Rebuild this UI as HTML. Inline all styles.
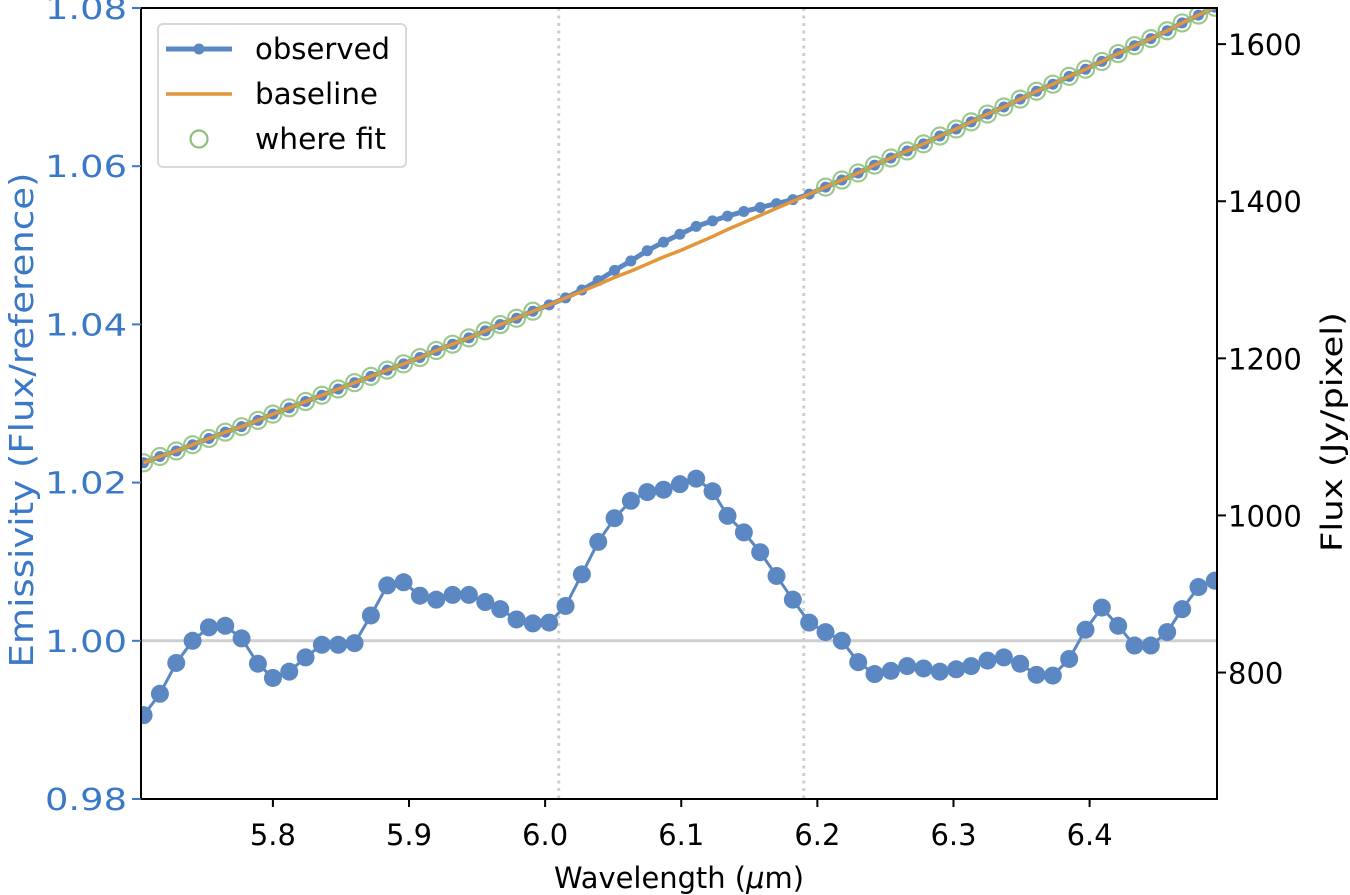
<!DOCTYPE html>
<html><head><meta charset="utf-8"><style>
html,body{margin:0;padding:0;background:#fff;}
svg text{font-family:"DejaVu Sans","Liberation Sans",sans-serif;}
</style></head><body>
<svg id="chart" width="1350" height="895" viewBox="0 0 1350 895" xmlns="http://www.w3.org/2000/svg" style="position:absolute;left:0;top:0">
<g id="grid"></g><g id="marks"></g><g id="axes"></g>
</svg>
<script>
const wavelength = [5.705,5.717,5.729,5.741,5.753,5.765,5.777,5.789,5.800,5.812,5.824,5.836,5.848,5.860,5.872,5.884,5.896,5.908,5.920,5.932,5.944,5.956,5.967,5.979,5.991,6.003,6.015,6.027,6.039,6.051,6.063,6.075,6.087,6.099,6.111,6.123,6.134,6.146,6.158,6.170,6.182,6.194,6.206,6.218,6.230,6.242,6.254,6.266,6.278,6.290,6.302,6.313,6.325,6.337,6.349,6.361,6.373,6.385,6.397,6.409,6.421,6.433,6.445,6.457,6.468,6.480,6.492];
const emissivity = [0.9906,0.9933,0.9972,1.0000,1.0017,1.0019,1.0003,0.9971,0.9953,0.9961,0.9979,0.9995,0.9995,0.9997,1.0032,1.0070,1.0074,1.0057,1.0052,1.0058,1.0058,1.0049,1.0040,1.0027,1.0022,1.0023,1.0044,1.0084,1.0125,1.0155,1.0177,1.0188,1.0191,1.0198,1.0205,1.0189,1.0158,1.0137,1.0112,1.0082,1.0052,1.0023,1.0011,1.0000,0.9973,0.9958,0.9962,0.9968,0.9965,0.9961,0.9964,0.9968,0.9975,0.9979,0.9971,0.9957,0.9956,0.9977,1.0014,1.0042,1.0019,0.9994,0.9994,1.0011,1.0040,1.0068,1.0076];
const fluxObserved = [1067,1075,1082,1090,1098,1106,1113,1121,1129,1137,1145,1153,1161,1169,1177,1185,1193,1201,1210,1218,1226,1235,1243,1251,1260,1268,1277,1287,1299,1312,1324,1337,1348,1358,1368,1375,1381,1387,1392,1397,1402,1409,1418,1427,1436,1446,1455,1464,1473,1483,1492,1501,1511,1520,1530,1540,1549,1559,1568,1578,1588,1598,1607,1617,1627,1637,1647];
const fluxBaseline = [1067,1075,1082,1090,1098,1106,1113,1121,1129,1137,1145,1153,1161,1169,1177,1185,1193,1201,1210,1218,1226,1235,1243,1251,1260,1268,1277,1285,1294,1303,1311,1320,1329,1337,1346,1355,1364,1373,1382,1391,1400,1409,1418,1427,1436,1446,1455,1464,1473,1483,1492,1501,1511,1520,1530,1540,1549,1559,1568,1578,1588,1598,1607,1617,1627,1637,1647];
const fitMask = [1,1,1,1,1,1,1,1,1,1,1,1,1,1,1,1,1,1,1,1,1,1,1,1,1,0,0,0,0,0,0,0,0,0,0,0,0,0,0,0,0,0,1,1,1,1,1,1,1,1,1,1,1,1,1,1,1,1,1,1,1,1,1,1,1,1,1];
const xTicks = [5.8,5.9,6.0,6.1,6.2,6.3,6.4];
const xTickLabels = ["5.8","5.9","6.0","6.1","6.2","6.3","6.4"];
const leftTicks = [0.98,1.00,1.02,1.04,1.06,1.08];
const leftTickLabels = ["0.98","1.00","1.02","1.04","1.06","1.08"];
const rightTicks = [800,1000,1200,1400,1600];
const rightTickLabels = ["800","1000","1200","1400","1600"];
const fitEdges = [6.01,6.19];

const L=141,R=1217,T=8,B=799;
const xMin=5.7031,xMax=6.4936, eMin=0.98,eMax=1.08, fMin=639,fMax=1646;
const xs=v=>L+(v-xMin)/(xMax-xMin)*(R-L);
const ye=v=>B-(v-eMin)/(eMax-eMin)*(B-T);
const yf=v=>B-(v-fMin)/(fMax-fMin)*(B-T);
const NS="http://www.w3.org/2000/svg";
function mk(tag,attrs,parent,text){const e=document.createElementNS(NS,tag);for(const k in attrs)e.setAttribute(k,attrs[k]);if(text!==undefined)e.textContent=text;parent.appendChild(e);return e;}
const svg=document.getElementById('chart');
const grid=document.getElementById('grid'),marks=document.getElementById('marks'),axes=document.getElementById('axes');
const cp=mk('clipPath',{id:'clip'},svg);
mk('rect',{x:L,y:T,width:R-L,height:B-T},cp);
marks.setAttribute('clip-path','url(#clip)');

let h=mk('line',{x1:L,x2:R,y1:ye(1.0),y2:ye(1.0),stroke:'#cfcfcf','stroke-width':3},grid);


fitEdges.forEach(w=>{const v=mk('line',{x1:xs(w),x2:xs(w),y1:T,y2:B,stroke:'#cfcfcf','stroke-width':3,'stroke-dasharray':'3 4.5'},grid);

});

let p=mk('polyline',{points:wavelength.map((w,i)=>xs(w)+','+ye(emissivity[i])).join(' '),fill:'none',stroke:'#5b87c2','stroke-width':3},marks);


wavelength.forEach((w,i)=>{const c=mk('circle',{cx:xs(w),cy:ye(emissivity[i]),r:9,fill:'#5b87c2'},marks);

});
p=mk('polyline',{points:wavelength.map((w,i)=>xs(w)+','+yf(fluxObserved[i])).join(' '),fill:'none',stroke:'#5b87c2','stroke-width':5},marks);


wavelength.forEach((w,i)=>{const c=mk('circle',{cx:xs(w),cy:yf(fluxObserved[i]),r:5.5,fill:'#5b87c2'},marks);

});
p=mk('polyline',{points:wavelength.map((w,i)=>xs(w)+','+yf(fluxBaseline[i])).join(' '),fill:'none',stroke:'#e4963a','stroke-width':3.5},marks);


wavelength.forEach((w,i)=>{if(!fitMask[i])return;const c=mk('circle',{cx:xs(w),cy:yf(fluxObserved[i]),r:8.5,fill:'none',stroke:'#8dbf78','stroke-width':2.2,'stroke-opacity':0.85},marks);

});

let fr=mk('rect',{x:L,y:T,width:R-L,height:B-T,fill:'none',stroke:'#000','stroke-width':2},axes);


xTicks.forEach((t,i)=>{mk('line',{x1:xs(t),x2:xs(t),y1:B,y2:B+8,stroke:'#000','stroke-width':2},axes);
const tx=mk('text',{x:xs(t),y:B+46,'font-size':29,'text-anchor':'middle',fill:'#000',textLength:46,lengthAdjust:'spacingAndGlyphs'},axes,xTickLabels[i]);

});
leftTicks.forEach((t,i)=>{mk('line',{x1:L-9,x2:L,y1:ye(t),y2:ye(t),stroke:'#3a78c8','stroke-width':2},axes);
const tx=mk('text',{x:45,y:ye(t)+11,'font-size':30,'text-anchor':'start',fill:'#3a78c8','font-family':'Liberation Sans, sans-serif',textLength:82,lengthAdjust:'spacingAndGlyphs'},axes,leftTickLabels[i]);

});
rightTicks.forEach((t,i)=>{mk('line',{x1:R,x2:R+9,y1:yf(t),y2:yf(t),stroke:'#000','stroke-width':2},axes);
const tx=mk('text',{x:R+11,y:yf(t)+11,'font-size':29,'text-anchor':'start',fill:'#000'},axes,rightTickLabels[i]);

});
</script>
<svg style="position:absolute;left:0;top:0" width="1350" height="895">
<text x="679" y="888" font-size="29" text-anchor="middle" fill="#000" font-family="DejaVu Sans, sans-serif" textLength="250" lengthAdjust="spacingAndGlyphs">Wavelength (<tspan font-style="italic">μ</tspan>m)</text>
<text transform="translate(33,420) rotate(-90)" font-size="33" text-anchor="middle" fill="#3a78c8" font-family="Liberation Sans, sans-serif" textLength="495" lengthAdjust="spacingAndGlyphs">Emissivity (Flux/reference)</text>
<text transform="translate(1342,432) rotate(-90)" font-size="29" text-anchor="middle" fill="#000" font-family="DejaVu Sans, sans-serif" textLength="240" lengthAdjust="spacingAndGlyphs">Flux (Jy/pixel)</text>
<g font-family="DejaVu Sans, sans-serif">
<rect x="158" y="24" width="248" height="143" rx="5" fill="#fff" fill-opacity="0.85" stroke="#d8d8d8" stroke-width="2"/>
<line x1="166" x2="232" y1="49" y2="49" stroke="#5b87c2" stroke-width="5"/>
<circle cx="199" cy="49" r="5.5" fill="#5b87c2"/>
<text x="255" y="59" font-size="29" fill="#000" textLength="135" lengthAdjust="spacingAndGlyphs">observed</text>
<line x1="166" x2="232" y1="94" y2="94" stroke="#e4963a" stroke-width="3.5"/>
<text x="255" y="104" font-size="29" fill="#000" textLength="123" lengthAdjust="spacingAndGlyphs">baseline</text>
<circle cx="199" cy="139" r="8.5" fill="none" stroke="#8dbf78" stroke-width="2.2"/>
<text x="255" y="149" font-size="29" fill="#000" textLength="131" lengthAdjust="spacingAndGlyphs">where fit</text>
</g>
</svg>
</body></html>
